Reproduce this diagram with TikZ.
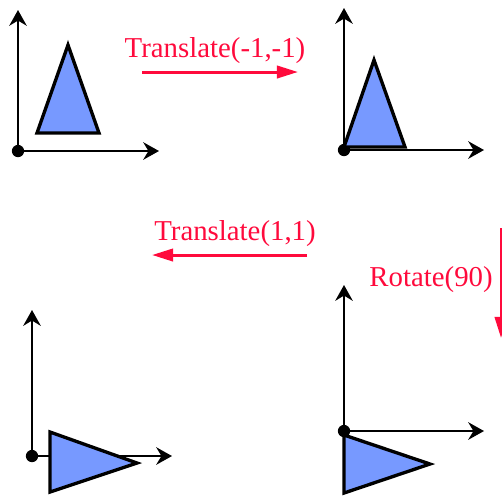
\documentclass[tikz,border=0pt]{standalone}
\usepackage{fontspec}
\setmainfont{Liberation Serif}
\usetikzlibrary{arrows.meta}
\definecolor{steprred}{HTML}{FF0A3C}
\definecolor{trifill}{HTML}{7799FF}

\begin{document}
\begin{tikzpicture}[
  x=0.02cm,
  y=-0.02cm,
  axis/.style={-{Stealth[length=9pt,width=10pt,inset=3pt]}, draw=black, line width=1.1pt},
  tri/.style={draw=black, fill=trifill, line width=1.9pt, line join=miter},
  origin/.style={circle, fill=black, inner sep=0pt, minimum size=7pt},
  stepflow/.style={-{Triangle[length=12pt,width=7pt]}, draw=steprred, line width=1.7pt},
  steplabel/.style={text=steprred, font=\fontsize{16.4}{18}\selectfont, inner sep=0pt}
]
\useasboundingbox (0,0) rectangle (502,495);

% Panel 1: start
\node[origin] (o1) at (18,151) {};
\coordinate (y1) at (18,10);
\coordinate (x1) at (159,151);
\draw[axis] (o1.center) -- (y1);
\draw[axis] (o1.center) -- (x1);
\draw[tri] (68,45) -- (99,133) -- (37,133) -- cycle;

% Panel 2: after translate
\node[origin] (o2) at (344,150) {};
\coordinate (y2) at (344,8);
\coordinate (x2) at (484,150);
\draw[axis] (o2.center) -- (y2);
\draw[axis] (o2.center) -- (x2);
\draw[tri] (374,60) -- (405,147) -- (344,147) -- cycle;

% Panel 4: after rotate
\node[origin] (o4) at (344,431) {};
\coordinate (y4) at (344,285);
\coordinate (x4) at (484,431);
\draw[axis] (o4.center) -- (y4);
\draw[axis] (o4.center) -- (x4);
\draw[tri] (344,435) -- (430,464) -- (344,493) -- cycle;

% Panel 3: translated back
\node[origin] (o3) at (32,456) {};
\coordinate (y3) at (32,310);
\coordinate (x3) at (172,456);
\draw[axis] (o3.center) -- (y3);
\draw[axis] (o3.center) -- (x3);
\draw[tri] (50,432) -- (137,463) -- (50,492) -- cycle;

% Transformation steps
\node[steplabel] (tneg) at (215,51) {Translate(-1,-1)};
\coordinate (tnegfrom) at (142,72);
\coordinate (tnegto) at (298,72);
\draw[stepflow] (tnegfrom) -- (tnegto);

\node[steplabel, anchor=east] (rot) at (493,280) {Rotate(90)};
\coordinate (rotfrom) at (501,228);
\coordinate (rotto) at (501,338);
\draw[stepflow] (rotfrom) -- (rotto);

\node[steplabel] (tpos) at (235,234) {Translate(1,1)};
\coordinate (tposfrom) at (307,255);
\coordinate (tposto) at (152,255);
\draw[stepflow] (tposfrom) -- (tposto);
\end{tikzpicture}
\end{document}
